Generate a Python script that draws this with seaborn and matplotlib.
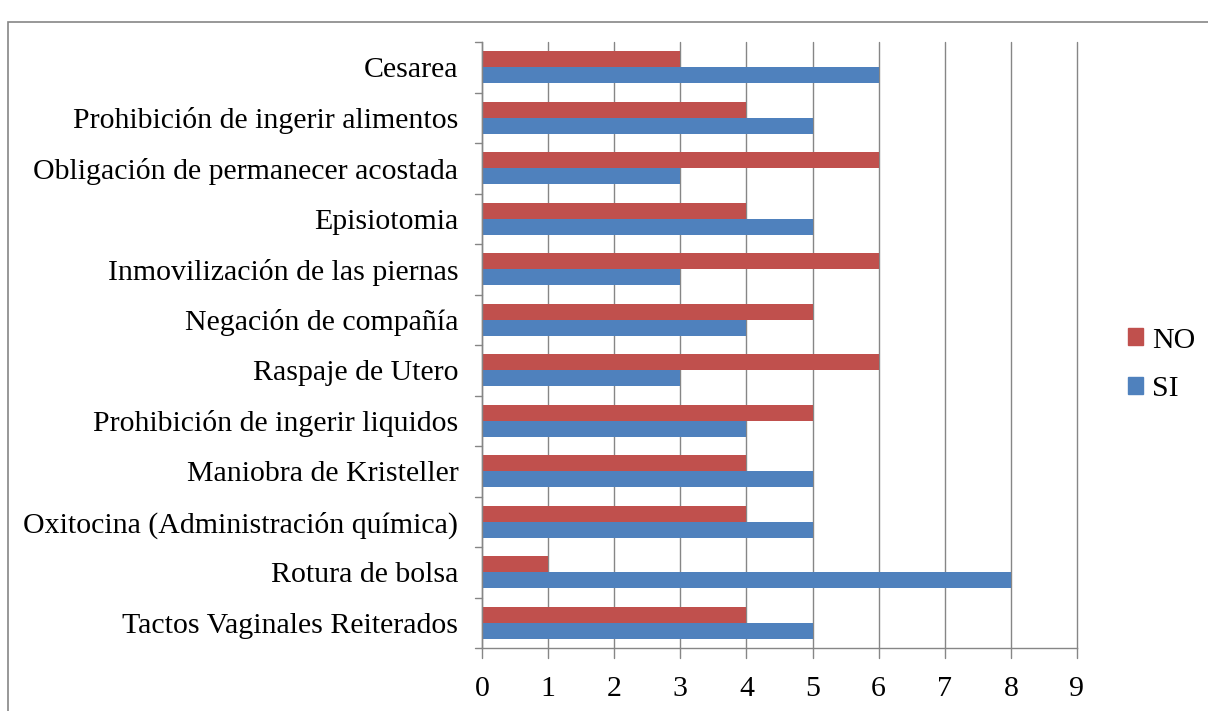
import pandas as pd
import matplotlib.pyplot as plt
import matplotlib.patches as mpatches
import seaborn as sns

# --- Data (top to bottom as shown) ---
categories = [
    'Cesarea',
    'Prohibición de ingerir alimentos',
    'Obligación de permanecer acostada',
    'Episiotomia',
    'Inmovilización de las piernas',
    'Negación de compañía',
    'Raspaje de Utero',
    'Prohibición de ingerir liquidos',
    'Maniobra de Kristeller',
    'Oxitocina (Administración química)',
    'Rotura de bolsa',
    'Tactos Vaginales Reiterados',
]
si_values = [6, 5, 3, 5, 3, 4, 3, 4, 5, 5, 8, 5]
no_values = [3, 4, 6, 4, 6, 5, 6, 5, 4, 4, 1, 4]
x_ticks = list(range(0, 10))

df = pd.DataFrame({
    'Categoria': categories * 2,
    'Valor': no_values + si_values,
    'Serie': ['NO'] * len(categories) + ['SI'] * len(categories),
})

colors = {'NO': '#C0504D', 'SI': '#4F81BD'}
grid_color = '#868686'
FS = 21.5

sns.set_style('white')
plt.rcParams['font.family'] = ['Liberation Serif', 'DejaVu Serif']
plt.rcParams['text.color'] = 'black'

fig = plt.figure(figsize=(12.08, 7.11), dpi=100)
ax = fig.add_axes([0.399, 0.0886, 0.4925, 0.8523])

sns.barplot(data=df, x='Valor', y='Categoria', hue='Serie', hue_order=['NO', 'SI'],
            order=categories, orient='h', palette=colors, width=0.63,
            saturation=1, linewidth=0, ax=ax, legend=False)

ax.set_xlim(0, 9)
ax.set_ylim(len(categories) - 0.5, -0.5)
ax.set_xticks(x_ticks)
ax.set_xticklabels([str(t) for t in x_ticks], fontsize=FS, color='black')
ax.set_yticks(range(len(categories)))
ax.set_yticklabels(categories, fontsize=FS, color='black')
ax.tick_params(axis='y', length=0, pad=17)
ax.tick_params(axis='x', length=0, pad=20)
ax.set_xlabel('')
ax.set_ylabel('')

# category boundary ticks on y axis, integer ticks below x axis
for b in [i - 0.5 for i in range(len(categories) + 1)]:
    ax.plot([-0.11, 0], [b, b], color=grid_color, lw=1, clip_on=False)
for t in x_ticks:
    ax.plot([t, t], [len(categories) - 0.5, len(categories) - 0.5 + 0.2],
            color=grid_color, lw=1, clip_on=False)

ax.xaxis.grid(True, color=grid_color, lw=1)
for gl in ax.get_xgridlines():
    gl.set_clip_on(False)
ax.set_axisbelow(True)
for side in ['top', 'right']:
    ax.spines[side].set_visible(False)
for side in ['left', 'bottom']:
    ax.spines[side].set_color(grid_color)
    ax.spines[side].set_linewidth(1)

handles = [mpatches.Patch(color=colors['NO'], label='NO'),
           mpatches.Patch(color=colors['SI'], label='SI')]
fig.legend(handles=handles, loc='center left', bbox_to_anchor=(0.934, 0.487),
           frameon=False, fontsize=FS, handlelength=0.5, handleheight=0.5,
           handletextpad=0.3, labelspacing=0.75, borderpad=0, borderaxespad=0)

# outer chart border
fig.add_artist(mpatches.Rectangle((8 / 1208, -0.01), 1.1, 1 - 22 / 711 + 0.01,
                                  transform=fig.transFigure, fill=False,
                                  edgecolor=grid_color, lw=1.2))

plt.savefig('out.png', dpi=100)
